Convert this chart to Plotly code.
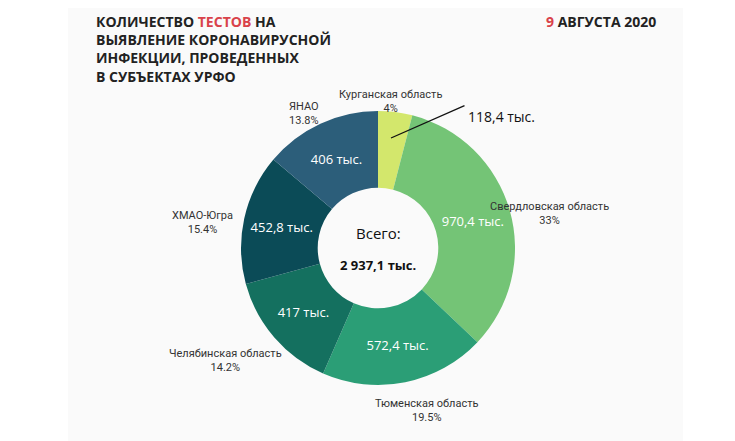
import plotly.graph_objects as go

# Данные
regions = ['Курганская область', 'Свердловская область', 'Тюменская область',
           'Челябинская область', 'ХМАО-Югра', 'ЯНАО']
tests = [118.4, 970.4, 572.4, 417.0, 452.8, 406.0]
value_labels = ['', '970,4 тыс.', '572,4 тыс.', '417 тыс.', '452,8 тыс.', '406 тыс.']
shares = ['4%', '33%', '19.5%', '14.2%', '15.4%', '13.8%']
colors = ['#d3e76c', '#74c476', '#2b9e76', '#14705f', '#0b4b57', '#2c5e7a']

W, H = 735, 441


def px(x, y):
    return x / W, 1 - y / H


cx, cy, r = 370, 240, 137

fig = go.Figure(go.Pie(
    labels=regions, values=tests, text=value_labels,
    textinfo='text', textposition='inside', insidetextorientation='horizontal',
    textfont=dict(color='white', size=13, family='Open Sans'),
    marker=dict(colors=colors), hole=0.44, sort=False, direction='clockwise',
    rotation=0, showlegend=False, hoverinfo='label+value',
    domain=dict(x=[(cx - r) / W, (cx + r) / W], y=[1 - (cy + r) / H, 1 - (cy - r) / H]),
))

ann = []
# внешние подписи
label_pos = [(383, 78), (603, 205), (418, 418), (159, 368), (162, 214), (296, 90)]
for (x, y), name, s in zip(label_pos, regions, shares):
    nx, ny = px(x, y)
    ann.append(dict(x=nx, y=ny, xref='paper', yref='paper', showarrow=False,
                    text=f'{name}<br>{s}', font=dict(size=11, color='#333', family='Roboto'),
                    align='center'))

# значение Курганской области с линией
tx, ty = px(458, 97)
ax, ay = px(383, 130)
ann.append(dict(x=ax, y=ay, ax=75, ay=-33, xref='paper', yref='paper', axref='pixel', ayref='pixel',
                showarrow=True, arrowhead=0, arrowwidth=1.3, arrowcolor='#111', text=''))
ann.append(dict(x=tx, y=ty, xref='paper', yref='paper', showarrow=False, xanchor='left',
                text='118,4 тыс.', font=dict(size=14, color='#111', family='Open Sans')))

# центр
x0, y0 = px(370, 237)
ann.append(dict(x=x0, y=y0, xref='paper', yref='paper', showarrow=False, yanchor='bottom',
                text='Всего:', font=dict(size=15, color='#111', family='Open Sans')))
ann.append(dict(x=x0, y=y0 - 0.02, xref='paper', yref='paper', showarrow=False, yanchor='top',
                text='<b>2 937,1 тыс.</b>', font=dict(size=13, color='#111', family='Open Sans')))

# заголовок
x1, y1 = px(86, 2)
ann.append(dict(x=x1, y=y1, xref='paper', yref='paper', showarrow=False, xanchor='left', yanchor='top',
                align='left',
                text='<b>КОЛИЧЕСТВО <span style="color:#d9424a">ТЕСТОВ</span> НА<br>'
                     'ВЫЯВЛЕНИЕ КОРОНАВИРУСНОЙ<br>ИНФЕКЦИИ, ПРОВЕДЕННЫХ<br>В СУБЪЕКТАХ УРФО</b>',
                font=dict(size=14, color='#222', family='Open Sans')))
x2, y2 = px(650, 2)
ann.append(dict(x=x2, y=y2, xref='paper', yref='paper', showarrow=False, xanchor='right', yanchor='top',
                text='<b><span style="color:#d9424a">9</span> АВГУСТА 2020</b>',
                font=dict(size=14, color='#222', family='Open Sans')))

fig.update_layout(
    width=W, height=H, margin=dict(l=0, r=0, t=0, b=0),
    paper_bgcolor='white', plot_bgcolor='white', annotations=ann,
    shapes=[dict(type='rect', xref='paper', yref='paper', x0=60 / W, x1=675 / W, y0=0, y1=1,
                 fillcolor='#fafafa', line_width=0, layer='below')],
)

fig.write_html('out.html')
